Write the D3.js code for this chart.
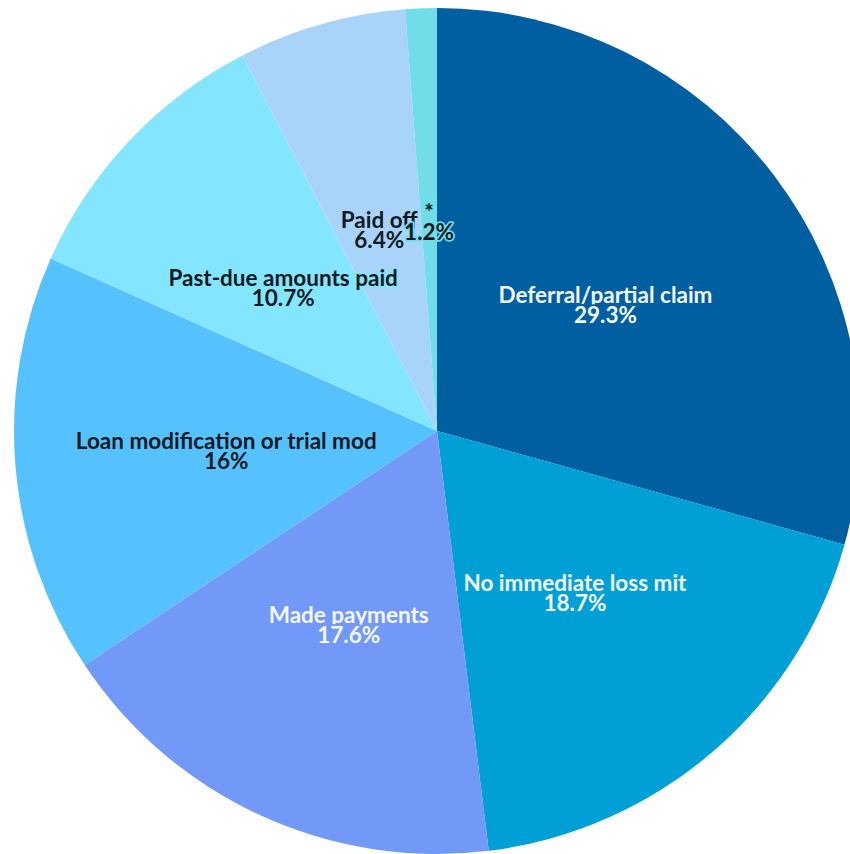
<!DOCTYPE html>
<html>
<head>
<meta charset="utf-8">
<script src="https://cdn.jsdelivr.net/npm/d3@7"></script>
<style>
  body { margin: 0; background: #fff; }
  .sliceText { font-family: Lato, sans-serif; font-weight: bold; text-anchor: middle; }
</style>
</head>
<body>
<div id="pie"></div>
<script>
// Outcome categories and their shares (%)
var labels = ["Deferral/partial claim", "No immediate loss mit", "Made payments",
  "Loan modification or trial mod", "Past-due amounts paid", "Paid off", "*"];
var values = [29.3, 18.7, 17.6, 16, 10.7, 6.4, 1.2];
var valueText = ["29.3%", "18.7%", "17.6%", "16%", "10.7%", "6.4%", "1.2%"];

var colors = ["#005fa0", "#00a0d6", "#7399f8", "#55c2fe", "#84e5fe", "#a8d4fa", "#70dde8"];
var textColors = ["#f4f8ff", "#f4f8ff", "#f4f8ff", "#111a22", "#111a22", "#111a22", "#111a22"];

var width = 850;
var height = 854;
var cx = 437;
var cy = 431;
var radius = 423;
var fontSize = 22.5;

var svg = d3.select("#pie")
  .append("svg")
  .attr("width", width)
  .attr("height", height);

var data = labels.map(function(l, i) {
  return { label: l, value: values[i], text: valueText[i], i: i };
});

var pie = d3.pie()
  .sort(null)
  .value(function(d) { return d.value; });

var arc = d3.arc().innerRadius(0).outerRadius(radius);

var g = svg.append("g").attr("transform", "translate(" + cx + "," + cy + ")");

var arcs = pie(data);

g.selectAll("path.slice")
  .data(arcs)
  .enter()
  .append("path")
  .attr("class", "slice")
  .attr("d", arc)
  .attr("fill", function(d) { return colors[d.data.i]; });

// labels at centroid, two lines, with a halo in the slice colour
var lbl = g.selectAll("text.sliceText")
  .data(arcs)
  .enter()
  .append("text")
  .attr("class", "sliceText")
  .attr("transform", function(d) { return "translate(" + arc.centroid(d) + ")"; })
  .attr("font-size", fontSize)
  .attr("fill", function(d) { return textColors[d.data.i]; })
  .attr("stroke", function(d) { return colors[d.data.i]; })
  .attr("stroke-width", 3.5)
  .attr("stroke-linejoin", "round")
  .attr("paint-order", "stroke");

lbl.append("tspan")
  .attr("x", 0)
  .attr("y", 0)
  .text(function(d) { return d.data.label; });

lbl.append("tspan")
  .attr("x", 0)
  .attr("y", 20)
  .text(function(d) { return d.data.text; });
</script>
</body>
</html>
